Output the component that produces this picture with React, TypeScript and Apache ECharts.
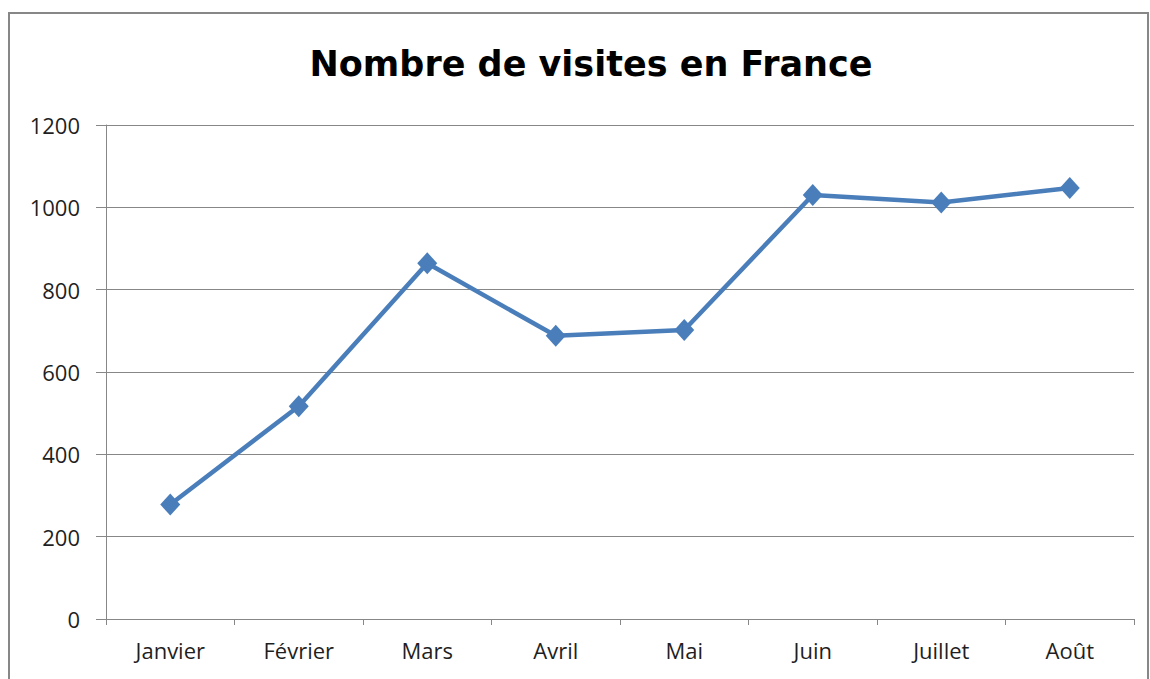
import React, { useEffect, useRef } from "react";
import * as echarts from "echarts";

const title = "Nombre de visites en France";
const categories = ["Janvier", "Février", "Mars", "Avril", "Mai", "Juin", "Juillet", "Août"];
const visits = [278, 517, 864, 688, 702, 1030, 1012, 1047];
const yMin = 0;
const yMax = 1200;
const yInterval = 200;

export default function App() {
  const ref = useRef<HTMLDivElement>(null);
  useEffect(() => {
    document.body.style.margin = "0";
    const chart = echarts.init(ref.current!, null, { renderer: "svg" });
    const font = "'Open Sans', sans-serif";
    chart.setOption({
      animation: false,
      backgroundColor: "#ffffff",
      graphic: [
        {
          type: "rect",
          shape: { x: 9, y: 13, width: 1139, height: 700 },
          style: { fill: "none", stroke: "#878787", lineWidth: 2 },
          silent: true,
          z: -1,
        },
      ],
      title: {
        text: title,
        left: 586,
        top: 41,
        textAlign: "center",
        textStyle: { fontFamily: "'DejaVu Sans', sans-serif", fontWeight: "bold", fontSize: 35, color: "#000000" },
      },
      grid: { left: 106, right: 16, top: 125, bottom: 60, containLabel: false },
      xAxis: {
        type: "category",
        data: categories,
        boundaryGap: true,
        axisLine: { show: true, lineStyle: { color: "#878787", width: 1 } },
        axisTick: { show: true, length: 6, lineStyle: { color: "#878787" } },
        axisLabel: { margin: 20, fontFamily: font, fontSize: 22, color: "#1f1f1f" },
        splitLine: { show: false },
      },
      yAxis: {
        type: "value",
        min: yMin,
        max: yMax,
        interval: yInterval,
        axisLine: { show: true, lineStyle: { color: "#878787", width: 1 } },
        axisTick: { show: true, length: 10, lineStyle: { color: "#878787" } },
        axisLabel: {
          margin: 26,
          fontFamily: font,
          fontSize: 22,
          color: "#1f1f1f",
          formatter: (v: number) => String(v),
        },
        splitLine: { show: true, lineStyle: { color: "#878787", width: 1 } },
      },
      series: [
        {
          type: "line",
          data: visits,
          symbol: "diamond",
          symbolSize: [20, 22],
          lineStyle: { color: "#4a7ebb", width: 4.5 },
          itemStyle: { color: "#4a7ebb" },
        },
      ],
    });
    return () => chart.dispose();
  }, []);
  return <div ref={ref} style={{ width: 1150, height: 679 }} />;
}
